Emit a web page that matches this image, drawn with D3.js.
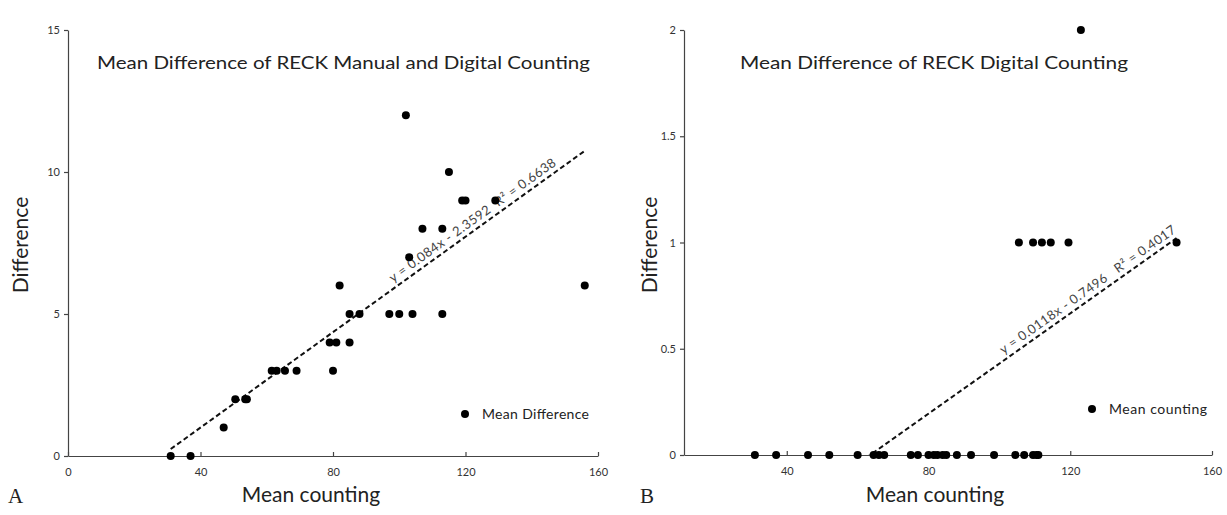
<!DOCTYPE html>
<html>
<head>
<meta charset="utf-8">
<script src="https://cdn.jsdelivr.net/npm/d3@7"></script>
<style>
	body { margin: 0; background: #fff; }
	svg text { font-family: Lato, "Open Sans", sans-serif; fill: #222; }
	.tick text { font-size: 11px; fill: #333; }
	.domain, .tick line { stroke: #444; stroke-width: 1.2; }
</style>
</head>
<body>
<svg id="chart" width="1227" height="515"></svg>
<script>
// panel A: manual vs digital
var leftX = [31, 37, 47, 50.5, 53.5, 54, 61.5, 63, 65.5, 69, 80, 79, 81, 85, 82, 85, 88, 97, 100, 104, 113, 102, 103, 107, 113, 115, 119, 120, 129, 156];
var leftY = [0, 0, 1, 2, 2, 2, 3, 3, 3, 3, 3, 4, 4, 4, 6, 5, 5, 5, 5, 5, 5, 12, 7, 8, 8, 10, 9, 9, 9, 6];
var leftXTicks = [0, 40, 80, 120, 160];
var leftYTicks = [0, 5, 10, 15];
var leftFit = [0.084, -2.3592];

// panel B: digital vs digital
var rightX = [31, 37, 46, 52, 60, 64.5, 66, 67.5, 75, 77, 80, 81.5, 82.5, 84, 85, 88, 92, 98.5, 104.5, 107, 109.5, 110.5, 111,
	105.5, 109.5, 112, 114.5, 119.5, 150, 123];
var rightY = [0, 0, 0, 0, 0, 0, 0, 0, 0, 0, 0, 0, 0, 0, 0, 0, 0, 0, 0, 0, 0, 0, 0,
	1, 1, 1, 1, 1, 1, 2];
var rightXTicks = [40, 80, 120, 160];
var rightYTicks = [0, 0.5, 1, 1.5, 2];
var rightFit = [0.0118, -0.7496];

var svg = d3.select('#chart');

function drawPanel(cfg) {
	var g = svg.append('g');
	var x = d3.scaleLinear().domain(cfg.xDomain).range(cfg.xRange);
	var y = d3.scaleLinear().domain(cfg.yDomain).range(cfg.yRange);

	var clipId = 'clip' + cfg.letter;
	g.append('clipPath').attr('id', clipId)
		.append('rect')
		.attr('x', cfg.xRange[0]).attr('y', cfg.yRange[1])
		.attr('width', cfg.xRange[1] - cfg.xRange[0])
		.attr('height', cfg.yRange[0] - cfg.yRange[1]);

	g.append('g')
		.attr('transform', 'translate(0,' + cfg.yRange[0] + ')')
		.call(d3.axisBottom(x).tickValues(cfg.xTicks).tickFormat(d3.format('~g'))
			.tickSize(-4).tickPadding(10).tickSizeOuter(0))
		.selectAll('.tick text').attr('dy', '0.9em');

	g.append('g')
		.attr('transform', 'translate(' + cfg.xRange[0] + ',0)')
		.call(d3.axisLeft(y).tickValues(cfg.yTicks).tickFormat(d3.format('~g'))
			.tickSize(4).tickPadding(4).tickSizeOuter(0));

	// trend line, clipped to the plot area
	var fx = d3.extent(cfg.xs);
	var fit = cfg.fit;
	var line = d3.line()
		.x(function (d) { return x(d); })
		.y(function (d) { return y(fit[0] * d + fit[1]); });
	g.append('path')
		.attr('clip-path', 'url(#' + clipId + ')')
		.attr('d', line(fx))
		.attr('fill', 'none')
		.attr('stroke', '#111')
		.attr('stroke-width', 2)
		.attr('stroke-dasharray', '5,3');

	var angle = Math.atan2(y(fit[0] * fx[1] + fit[1]) - y(fit[0] * fx[0] + fit[1]), x(fx[1]) - x(fx[0])) * 180 / Math.PI;
	g.append('text')
		.attr('transform', 'translate(' + x(cfg.labelAt) + ',' + y(fit[0] * cfg.labelAt + fit[1]) + ') rotate(' + angle + ')')
		.attr('dy', -5)
		.attr('textLength', cfg.fitLen)
		.style('font-size', '13px')
		.style('fill', '#444')
		.attr('xml:space', 'preserve')
		.text(cfg.fitLabel);

	g.selectAll('circle.pt')
		.data(cfg.xs)
		.enter()
		.append('circle')
		.attr('class', 'pt')
		.attr('cx', function (d) { return x(d); })
		.attr('cy', function (d, i) { return y(cfg.ys[i]); })
		.attr('r', 4)
		.attr('fill', '#000');

	// legend
	g.append('circle')
		.attr('cx', cfg.legend[0]).attr('cy', cfg.legend[1])
		.attr('r', 4).attr('fill', '#000');
	g.append('text')
		.attr('x', cfg.legend[0] + 17).attr('y', cfg.legend[1])
		.attr('dy', '0.35em')
		.attr('textLength', cfg.legend[2])
		.style('font-size', '14px')
		.text(cfg.legendText);

	g.append('text')
		.attr('x', cfg.title[0]).attr('y', cfg.title[1])
		.attr('textLength', cfg.title[2])
		.attr('lengthAdjust', 'spacingAndGlyphs')
		.style('font-size', '18px')
		.text(cfg.titleText);

	g.append('text')
		.attr('transform', 'translate(' + cfg.yLabelX + ',' + 245 + ') rotate(-90)')
		.attr('text-anchor', 'middle')
		.style('font-size', '21px')
		.text('Difference');

	g.append('text')
		.attr('x', cfg.xLabelX).attr('y', 502)
		.attr('text-anchor', 'middle')
		.style('font-size', '21px')
		.text('Mean counting');

	g.append('text')
		.attr('x', cfg.letterX).attr('y', 503)
		.style('font-family', '"Liberation Serif", serif')
		.style('font-size', '21px')
		.text(cfg.letter);
}

drawPanel({
	letter: 'A', letterX: 8,
	xs: leftX, ys: leftY,
	xDomain: [0, 160], yDomain: [0, 15],
	xRange: [68, 598], yRange: [456, 30],
	xTicks: leftXTicks, yTicks: leftYTicks,
	fit: leftFit, labelAt: 99, fitLen: 202,
	fitLabel: 'y = 0.084x - 2.3592  R\u00b2 = 0.6638',
	legend: [465, 414, 107], legendText: 'Mean Difference',
	title: [97, 69, 493], titleText: 'Mean Difference of RECK Manual and Digital Counting',
	yLabelX: 28, xLabelX: 311
});

drawPanel({
	letter: 'B', letterX: 640,
	xs: rightX, ys: rightY,
	xDomain: [11, 160], yDomain: [0, 2],
	xRange: [684, 1212], yRange: [455, 30],
	xTicks: rightXTicks, yTicks: rightYTicks,
	fit: rightFit, labelAt: 102, fitLen: 212,
	fitLabel: 'y = 0.0118x - 0.7496   R\u00b2 = 0.4017',
	legend: [1092, 409, 98], legendText: 'Mean counting',
	title: [740, 69, 388], titleText: 'Mean Difference of RECK Digital Counting',
	yLabelX: 657, xLabelX: 935
});
</script>
</body>
</html>
